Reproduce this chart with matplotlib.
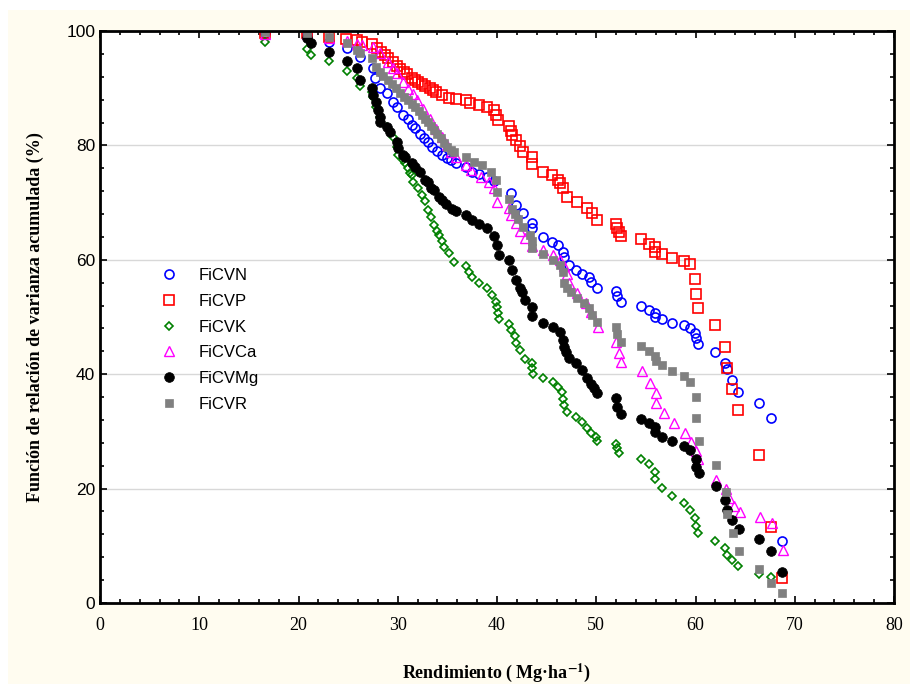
import matplotlib
matplotlib.use("Agg")
import matplotlib.pyplot as plt
from matplotlib.patches import Rectangle
from matplotlib.ticker import MultipleLocator

plt.rcParams['mathtext.fontset'] = 'stix'

# (rendimiento, funcion acumulada %) por variable
ficvn = [(16.6, 99.6), (20.9, 99.3), (23.1, 98.0), (24.9, 97.0), (26.2, 95.4), (27.5, 93.5),
         (27.7, 91.8), (28.2, 90.0), (28.9, 89.1), (29.5, 87.6), (29.9, 86.7), (30.5, 85.3),
         (31.0, 84.6), (31.4, 83.6), (31.7, 83.0), (32.2, 82.0), (32.6, 81.3), (33.0, 80.6),
         (33.5, 79.7), (34.0, 79.0), (34.5, 78.3), (35.0, 77.8), (35.4, 77.4), (35.9, 77.0),
         (36.9, 76.2), (37.5, 75.4), (38.2, 75.0), (39.0, 74.5), (39.7, 73.8), (41.4, 71.7),
         (41.9, 69.6), (42.6, 68.2), (43.5, 66.4), (43.5, 65.5), (44.6, 64.0), (45.5, 63.1),
         (46.1, 62.6), (46.6, 61.4), (46.8, 60.5), (47.3, 59.1), (48.0, 58.2), (48.6, 57.6),
         (49.3, 57.0), (49.5, 56.1), (50.1, 55.1), (52.0, 54.6), (52.1, 53.7), (52.5, 52.6),
         (54.5, 52.0), (55.3, 51.2), (55.9, 50.7), (55.9, 50.0), (56.6, 49.7), (57.6, 49.0),
         (58.8, 48.6), (59.4, 48.1), (59.9, 47.2), (60.1, 46.3), (60.3, 45.3), (62.0, 43.9),
         (63.0, 42.0), (63.2, 40.9), (63.7, 39.0), (64.3, 36.9), (66.4, 35.0), (67.6, 32.3),
         (68.7, 10.8)]

ficvp = [(16.6, 99.7), (20.9, 99.6), (23.1, 99.0), (24.8, 98.6), (25.9, 98.5), (26.4, 98.0),
         (27.4, 97.7), (27.9, 97.0), (28.3, 96.4), (28.7, 95.8), (29.0, 95.2), (29.5, 94.5),
         (29.9, 93.8), (30.2, 93.3), (30.6, 92.8), (30.9, 92.4), (31.4, 91.8), (31.7, 91.4),
         (32.0, 91.0), (32.4, 90.7), (32.7, 90.4), (33.2, 90.0), (33.6, 89.6), (33.9, 89.3),
         (34.5, 88.8), (35.2, 88.3), (35.9, 88.1), (36.9, 87.9), (37.3, 87.4), (38.2, 87.1),
         (39.0, 86.7), (39.7, 86.2), (39.9, 85.3), (40.1, 84.4), (41.2, 83.4), (41.4, 82.6),
         (41.5, 81.8), (41.9, 80.9), (42.3, 79.9), (42.6, 78.8), (43.5, 78.0), (43.5, 76.8),
         (44.6, 75.4), (45.5, 74.8), (46.1, 74.0), (46.3, 73.4), (46.6, 72.5), (47.1, 70.9),
         (48.1, 70.1), (49.1, 69.0), (49.6, 68.2), (50.1, 67.0), (52.0, 66.3), (52.1, 65.6),
         (52.3, 64.8), (52.5, 64.1), (54.5, 63.6), (55.3, 62.8), (55.9, 62.2), (55.9, 61.4),
         (56.6, 61.0), (57.6, 60.3), (58.8, 59.8), (59.4, 59.3), (59.9, 56.6), (60.1, 54.0),
         (60.3, 51.6), (62.0, 48.6), (63.0, 44.8), (63.2, 41.1), (63.7, 37.4), (64.3, 33.7),
         (66.4, 25.8), (67.6, 13.3), (68.7, 4.3)]

ficvk = [(16.6, 98.1), (20.9, 96.8), (21.3, 95.8), (23.1, 94.8), (24.9, 93.0), (25.9, 91.8),
         (26.2, 90.4), (27.4, 89.3), (27.5, 88.5), (27.8, 86.7), (28.2, 85.0), (28.9, 83.2),
         (29.5, 81.5), (29.9, 79.7), (30.0, 78.3), (30.5, 77.5), (30.7, 77.0), (31.0, 76.0),
         (31.2, 75.2), (31.4, 74.8), (31.5, 73.6), (32.0, 72.6), (32.4, 71.3), (32.7, 70.2),
         (33.0, 68.7), (33.4, 67.4), (33.7, 66.0), (34.0, 65.0), (34.2, 64.3), (34.5, 63.2),
         (34.7, 62.2), (35.2, 61.2), (35.7, 59.6), (36.9, 58.9), (37.2, 57.9), (37.5, 57.0),
         (38.2, 56.0), (39.0, 55.0), (39.5, 53.8), (39.9, 52.6), (40.0, 51.7), (40.1, 50.7),
         (40.2, 49.6), (41.2, 48.8), (41.4, 47.8), (41.8, 46.7), (41.9, 45.5), (42.3, 44.2),
         (42.8, 42.7), (43.5, 42.0), (43.5, 41.1), (43.6, 40.0), (44.6, 39.3), (45.6, 38.6),
         (46.1, 37.8), (46.5, 36.9), (46.7, 35.7), (46.8, 34.6), (47.1, 33.4), (48.0, 32.5),
         (48.6, 31.6), (49.1, 30.6), (49.5, 29.7), (50.0, 29.0), (50.1, 28.3), (52.0, 27.8),
         (52.1, 27.1), (52.3, 26.2), (54.5, 25.2), (55.3, 24.3), (55.9, 22.9), (55.9, 21.7),
         (56.6, 20.1), (57.6, 18.7), (58.8, 17.5), (59.4, 16.3), (59.9, 14.9), (60.1, 13.5),
         (60.3, 12.2), (62.0, 10.8), (63.0, 9.6), (63.2, 8.4), (63.7, 7.5), (64.3, 6.5),
         (66.4, 5.1), (67.6, 4.5)]

ficvca = [(16.6, 99.5), (20.9, 99.4), (23.1, 98.8), (24.9, 98.2), (25.9, 97.8), (26.4, 97.5),
          (27.5, 97.2), (28.2, 96.2), (29.0, 94.6), (29.5, 93.6), (29.9, 92.6), (30.5, 91.0),
          (31.0, 89.8), (31.5, 89.0), (31.9, 88.0), (32.5, 86.4), (33.2, 84.6), (33.9, 82.8),
          (34.5, 81.5), (35.0, 80.0), (35.4, 78.9), (35.9, 78.0), (36.9, 76.6), (37.4, 75.7),
          (38.4, 74.5), (39.2, 73.6), (39.7, 72.5), (40.0, 70.1), (41.2, 69.0), (41.4, 67.8),
          (41.9, 66.4), (42.3, 65.0), (42.8, 63.8), (43.5, 62.5), (44.6, 61.7), (45.6, 60.8),
          (46.3, 60.0), (46.8, 59.0), (47.1, 57.5), (47.3, 56.0), (48.1, 54.2), (49.0, 52.5),
          (49.5, 50.9), (50.2, 48.3), (52.0, 45.6), (52.3, 43.7), (52.5, 42.1), (54.6, 40.5),
          (55.4, 38.5), (56.0, 36.7), (56.0, 35.0), (56.8, 33.2), (57.8, 31.5), (58.9, 29.8),
          (59.5, 28.2), (60.1, 26.5), (60.3, 25.1), (62.1, 21.5), (63.1, 19.9), (63.4, 18.4),
          (63.9, 17.0), (64.5, 15.9), (66.5, 15.0), (67.7, 14.0), (68.8, 9.3)]

ficvmg = [(20.9, 98.8), (21.3, 97.9), (23.1, 96.3), (24.9, 94.8), (25.9, 93.5), (26.2, 91.4),
          (27.4, 90.0), (27.5, 88.8), (27.8, 87.6), (28.0, 86.2), (28.2, 85.0), (28.2, 84.1),
          (28.9, 83.2), (29.2, 82.3), (29.9, 80.6), (30.0, 79.6), (30.5, 78.4), (30.7, 78.0),
          (31.4, 77.0), (31.7, 76.2), (32.2, 75.3), (32.7, 74.0), (33.0, 73.6), (33.4, 72.6),
          (33.7, 72.2), (34.2, 71.0), (34.5, 70.4), (34.9, 69.8), (35.5, 68.8), (35.9, 68.5),
          (36.9, 67.8), (37.5, 67.0), (38.2, 66.2), (39.0, 65.6), (39.7, 64.2), (40.0, 62.6),
          (40.2, 60.8), (41.2, 60.0), (41.5, 58.2), (41.9, 56.5), (42.3, 55.0), (42.5, 54.4),
          (42.8, 53.0), (43.5, 51.7), (43.5, 50.2), (44.6, 49.0), (45.6, 48.3), (46.3, 47.3),
          (46.6, 46.0), (46.8, 44.8), (47.0, 43.9), (47.3, 42.9), (48.0, 42.0), (48.6, 40.7),
          (49.1, 39.3), (49.5, 38.3), (49.8, 37.6), (50.1, 36.8), (52.0, 35.8), (52.1, 34.3),
          (52.5, 33.1), (54.5, 32.2), (55.3, 31.5), (55.9, 30.8), (55.9, 29.9), (56.6, 29.0),
          (57.6, 28.3), (58.8, 27.4), (59.4, 26.7), (60.0, 25.2), (60.1, 23.8), (60.4, 22.7),
          (62.1, 20.5), (63.0, 18.0), (63.2, 16.3), (63.7, 14.5), (64.4, 12.9), (66.4, 11.2),
          (67.6, 9.1), (68.7, 5.4)]

ficvr = [(16.6, 99.8), (20.9, 99.6), (23.1, 98.9), (24.9, 97.9), (25.9, 96.7), (26.2, 96.1),
         (27.4, 95.2), (27.8, 93.7), (28.2, 92.9), (28.5, 92.2), (29.0, 91.4), (29.4, 90.8),
         (29.8, 90.0), (30.2, 89.2), (30.6, 88.5), (31.0, 87.9), (31.4, 87.2), (31.7, 86.7),
         (32.1, 86.0), (32.4, 85.3), (32.7, 84.7), (33.0, 84.1), (33.4, 83.4), (33.7, 82.7),
         (34.0, 82.0), (34.4, 81.3), (34.7, 80.5), (35.0, 79.7), (35.4, 79.2), (35.7, 78.8),
         (36.9, 78.0), (37.7, 77.1), (38.5, 76.5), (39.4, 75.3), (39.9, 73.9), (40.0, 71.8),
         (41.2, 70.6), (41.5, 68.8), (41.8, 68.0), (42.1, 67.2), (42.6, 65.7), (43.3, 64.3),
         (43.5, 63.3), (43.5, 62.1), (44.6, 61.0), (45.6, 60.0), (46.3, 59.1), (46.6, 57.8),
         (46.8, 56.0), (47.1, 55.0), (47.5, 54.4), (48.1, 53.4), (48.8, 52.4), (49.3, 51.6),
         (49.6, 50.4), (50.1, 49.1), (52.0, 48.3), (52.1, 47.1), (52.5, 45.6), (54.5, 45.0),
         (55.3, 44.0), (55.9, 43.2), (56.0, 42.3), (56.6, 41.6), (57.6, 40.6), (58.8, 39.7),
         (59.4, 38.6), (60.0, 36.1), (60.1, 32.3), (60.4, 28.3), (62.1, 24.1), (63.1, 19.4),
         (63.2, 15.6), (63.8, 12.2), (64.4, 9.1), (66.4, 5.9), (67.6, 3.5), (68.7, 1.7)]

series = [
    ("FiCVN", ficvn, dict(marker="o", ms=6.5, mfc="none", mec="#0000FF", mew=1.2)),
    ("FiCVP", ficvp, dict(marker="s", ms=6.5, mfc="none", mec="#FF0000", mew=1.2)),
    ("FiCVK", ficvk, dict(marker="D", ms=4.5, mfc="none", mec="#008000", mew=1.2)),
    ("FiCVCa", ficvca, dict(marker="^", ms=6.5, mfc="none", mec="#FF00FF", mew=1.0)),
    ("FiCVMg", ficvmg, dict(marker="o", ms=7.0, mfc="black", mec="black", mew=0.5)),
    ("FiCVR", ficvr, dict(marker="s", ms=6.0, mfc="#808080", mec="#808080", mew=0.5)),
]

fig = plt.figure(figsize=(9.1, 6.84), dpi=100)
fig.patches.append(Rectangle((8 / 910, 0), 1, 1 - 10 / 684, transform=fig.transFigure,
                             facecolor="#FFFCF0", edgecolor="none", zorder=-10))
ax = fig.add_axes([100 / 910, 1 - 603 / 684, 794 / 910, 572 / 684])
ax.set_facecolor("white")

for name, pts, style in series:
    xs = [p[0] for p in pts]
    ys = [p[1] for p in pts]
    ax.plot(xs, ys, linestyle="none", label=name, **style)

ax.set_xlim(0, 80)
ax.set_ylim(0, 100)
ax.xaxis.set_major_locator(MultipleLocator(10))
ax.xaxis.set_minor_locator(MultipleLocator(2))
ax.yaxis.set_major_locator(MultipleLocator(20))
ax.yaxis.set_minor_locator(MultipleLocator(4))
ax.tick_params(which="both", direction="in", top=True, right=True, width=1.2)
ax.tick_params(which="major", length=5)
ax.tick_params(which="minor", length=3)
ax.tick_params(axis="x", pad=10)
ax.grid(axis="y", which="major", color="#D8D8D8", linewidth=1)
ax.set_axisbelow(True)
for sp in ax.spines.values():
    sp.set_linewidth(2)

for lab in ax.get_xticklabels():
    lab.set_fontfamily("Liberation Serif")
    lab.set_fontsize(13)
for lab in ax.get_yticklabels():
    lab.set_fontfamily("Liberation Sans")
    lab.set_fontsize(12.5)

ax.set_xlabel("Rendimiento ( Mg·ha$^{\\mathbf{-1}}$)", fontfamily="Liberation Serif",
              fontweight="bold", fontsize=13, labelpad=20)
ax.set_ylabel("Función de relación de varianza acumulada (%)", fontfamily="Liberation Serif",
              fontweight="bold", fontsize=13, labelpad=16)

leg = ax.legend(loc="upper left", bbox_to_anchor=(0.058, 0.597), frameon=False,
                prop={"family": "Liberation Sans", "size": 12}, handletextpad=0.75,
                labelspacing=0.64, borderaxespad=0)

fig.savefig("out.png", dpi=100)
